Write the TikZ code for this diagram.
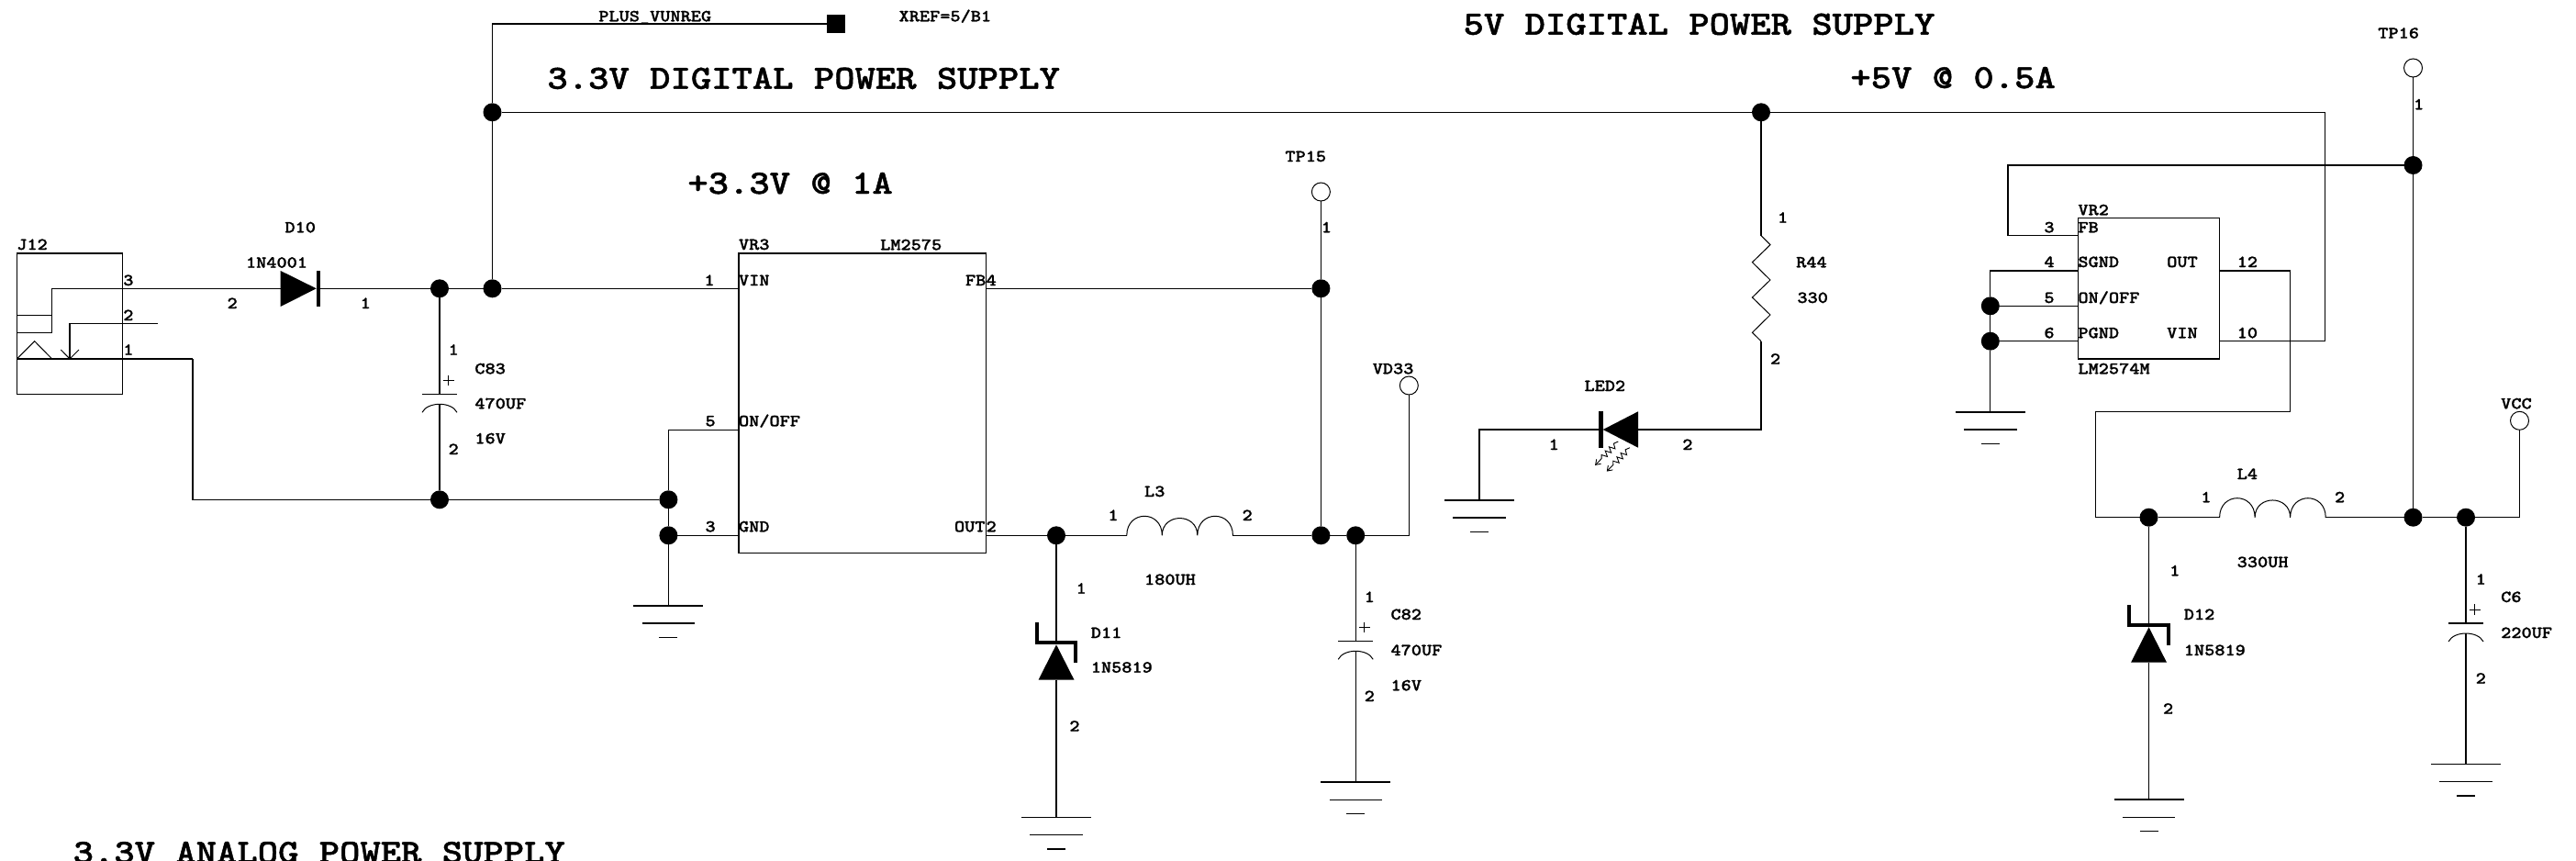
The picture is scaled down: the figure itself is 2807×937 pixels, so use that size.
\documentclass[tikz,border=0pt]{standalone}
\usepackage{fontspec}
\usetikzlibrary{arrows.meta}
\newfontfamily\schfont{Latin Modern Mono Light}[FakeStretch=1.15,BoldFeatures={FakeBold=1.2}]
\tikzset{
  x=1pt,y=-1pt,
  wire/.style={line width=1.15pt,black,line join=miter},
  thinw/.style={line width=1pt,black},
  lab/.style={anchor=base west,inner sep=0pt,outer sep=0pt,font=\schfont\bfseries\fontsize{18.5}{20}\selectfont},
  big/.style={anchor=base west,inner sep=0pt,outer sep=0pt,font=\schfont\bfseries\fontsize{37}{40}\selectfont},
  dot/.style={circle,fill=black,draw=none,minimum size=20pt,inner sep=0pt,outer sep=0pt},
  tpoint/.style={circle,fill=white,draw=black,line width=1pt,minimum size=20pt,inner sep=0pt,outer sep=0pt},
  ic/.style={rectangle,draw=black,line width=1.15pt,anchor=north west,inner sep=0pt,outer sep=0pt},
  sqport/.style={rectangle,fill=black,minimum size=20pt,inner sep=0pt,outer sep=0pt},
  gndsym/.pic={
    \draw[line width=1.6pt] (-38,0) -- (38,0);
    \draw[line width=1.6pt] (-28.7,19.3) -- (28.7,19.3);
    \draw[line width=1.3pt] (-10,34.6) -- (10,34.6);
  },
  coilsym/.pic={
    \draw[thinw] (0,0) .. controls (0,-28) and (38.5,-28) .. (38.5,0)
      .. controls (38.5,-25) and (77,-25) .. (77,0)
      .. controls (77,-28) and (115.6,-28) .. (115.6,0);
  },
  capsym/.pic={
    \draw[line width=1.3pt] (-19,0) -- (19,0);
    \draw[thinw] (-19,20) .. controls (-13,8) and (13,8) .. (19,20);
    \draw[line width=.9pt] (9.6,-20.6) -- (9.6,-9.4) (3.6,-15) -- (15.6,-15);
  },
  schottky/.pic={
    \fill (0,0) -- (-19.5,38.4) -- (19.5,38.4) -- cycle;
    \draw[line width=4pt,line cap=butt,line join=miter] (-21.5,-24) -- (-21.5,-2.3) -- (21,-2.3) -- (21,19.4);
  },
  ledray/.pic={
    \draw[line width=.9pt,-{Straight Barb[length=5pt,width=7pt]}] (0,0) -- (-4.9,2.2) -- (-3.4,7.9) -- (-9.9,5.8) -- (-7.6,12.2) -- (-14.1,10.1) -- (-11.8,16.5) -- (-18.3,14.5) -- (-18.2,18.7) -- (-25.2,25.9);
  },
}
\begin{document}
\begin{tikzpicture}
\clip (0,0) rectangle (2807,937);
\fill[white] (0,0) rectangle (2807,937);

% ---- coordinates -------------------------------------------------
\coordinate (topcorner) at (536.5,26);
\coordinate (jp3) at (56.7,314.3);
\coordinate (jp3b) at (56.7,362.3);
\coordinate (jp3c) at (18.3,362.3);
\coordinate (jr) at (18.3,343.3);
\coordinate (jr2) at (56.7,343.3);
\coordinate (jp2) at (171.7,352.7);
\coordinate (jp2b) at (76,352.7);
\coordinate (jp2c) at (76,391);
\coordinate (jp1) at (18.3,391);
\coordinate (jp1b) at (210,391);
\coordinate (jp1c) at (210,544.3);
\coordinate (jt1) at (37.7,371.7);
\coordinate (jt2) at (56.7,391);
\coordinate (ja1) at (66.3,381);
\coordinate (ja2) at (86,381);
\coordinate (d10a) at (305.7,314.3);
\coordinate (d10k) at (346.5,314.3);
\coordinate (c83p) at (479,429.3);
\coordinate (c83n) at (479,440.7);
\coordinate (vinp) at (805,314.3);
\coordinate (onp) at (805,468.3);
\coordinate (onb) at (728.4,468.3);
\coordinate (gndp) at (805,583.3);
\coordinate (gnd1) at (728.4,659.7);
\coordinate (fbp) at (1074.3,314.3);
\coordinate (outp) at (1074.3,583.3);
\coordinate (l3a) at (1227.8,583.3);
\coordinate (l3b) at (1343.4,583.3);
\coordinate (vdb) at (1535.3,583.3);
\coordinate (d11k) at (1151,702.3);
\coordinate (d11a) at (1151,740.7);
\coordinate (gnd2) at (1151,890.3);
\coordinate (c82p) at (1477.2,698.3);
\coordinate (c82n) at (1477.2,709.3);
\coordinate (gnd3) at (1477.2,852);
\coordinate (ledk) at (1746.7,468);
\coordinate (leda) at (1785,468);
\coordinate (ledl) at (1612,468);
\coordinate (ledr) at (1919,468);
\coordinate (gnd4) at (1612,544.7);
\coordinate (r1) at (1919,256.7);
\coordinate (r2) at (1919,371.7);
\coordinate (maine) at (2533.3,122.3);
\coordinate (mainf) at (2533.3,371.7);
\coordinate (vinq) at (2418.6,371.7);
\coordinate (fba) at (2188,180);
\coordinate (fbb) at (2188,256.7);
\coordinate (fbq) at (2264.4,256.7);
\coordinate (sgq) at (2264.4,295);
\coordinate (sga) at (2168.8,295);
\coordinate (onq) at (2264.4,333.3);
\coordinate (pgq) at (2264.4,371.7);
\coordinate (gnd5) at (2168.8,448.7);
\coordinate (ouq) at (2418.6,295);
\coordinate (oua) at (2495.7,295);
\coordinate (oub) at (2495.7,448.7);
\coordinate (ouc) at (2283.5,448.7);
\coordinate (oud) at (2283.5,563.7);
\coordinate (l4a) at (2418.6,563.7);
\coordinate (l4b) at (2534.2,563.7);
\coordinate (vcb) at (2745.5,563.7);
\coordinate (d12k) at (2341.5,683.3);
\coordinate (d12a) at (2341.5,721.7);
\coordinate (gnd6) at (2341.5,871);
\coordinate (c6p) at (2687,679);
\coordinate (c6n) at (2687,690);
\coordinate (gnd7) at (2687,832.3);

% ---- parts with nodes --------------------------------------------
\node[ic,minimum width=115pt,minimum height=153.3pt] (j12) at (18.3,276) {};
\node[ic,minimum width=269.3pt,minimum height=326.3pt] (vr3) at (805,276) {};
\node[ic,minimum width=154.2pt,minimum height=153.7pt] (vr2) at (2264.4,237.3) {};
\node[sqport] (xref) at (911,26) {};
\node[tpoint] (tp15) at (1439.4,209) {};
\node[tpoint] (vd33) at (1535.3,420) {};
\node[tpoint] (tp16) at (2629.5,74) {};
\node[tpoint] (vcc) at (2745.5,458.3) {};

\node[dot] (jA) at (536.5,122.3) {};
\node[dot] (jB) at (1919,122.3) {};
\node[dot] (jC) at (479,314.3) {};
\node[dot] (jD) at (536.5,314.3) {};
\node[dot] (jE) at (479,544.3) {};
\node[dot] (jF) at (728.4,544.3) {};
\node[dot] (jG) at (728.4,583.3) {};
\node[dot] (jH) at (1439.4,314.3) {};
\node[dot] (jI) at (1151,583.3) {};
\node[dot] (jK) at (1439.4,583.3) {};
\node[dot] (jL) at (1477.2,583.3) {};
\node[dot] (jM) at (2168.8,333.3) {};
\node[dot] (jN) at (2168.8,371.7) {};
\node[dot] (jO) at (2629.5,180) {};
\node[dot] (jP) at (2341.5,563.7) {};
\node[dot] (jQ) at (2629.5,563.7) {};
\node[dot] (jR) at (2687,563.7) {};

% ---- connectors --------------------------------------------------
\draw[wire] (xref) -- (topcorner) -- (jA);
\draw[wire] (jA) -- (jD);
\draw[wire] (jA) -- (jB);
\draw[wire] (jB) -- (maine) -- (mainf) -- (vinq);
\draw[wire] (jB) -- (r1);
\draw[wire] (jp3) -- (d10a);
\draw[wire] (d10k) -- (jC);
\draw[wire] (jC) -- (jD);
\draw[wire] (jD) -- (vinp);
\draw[wire] (jC) -- (c83p);
\draw[wire] (c83n) -- (jE);
\draw[wire] (jp1b) -- (jp1c) -- (jE);
\draw[wire] (jE) -- (jF);
\draw[wire] (onp) -- (onb) -- (jF);
\draw[wire] (jF) -- (jG);
\draw[wire] (jG) -- (gndp);
\draw[wire] (jG) -- (gnd1);
\draw[wire] (fbp) -- (jH);
\draw[wire] (tp15) -- (jH);
\draw[wire] (jH) -- (jK);
\draw[wire] (outp) -- (jI);
\draw[wire] (jI) -- (l3a);
\draw[wire] (l3b) -- (jK);
\draw[wire] (jK) -- (jL);
\draw[wire] (jL) -- (vdb) -- (vd33);
\draw[wire] (jI) -- (d11k);
\draw[wire] (d11a) -- (gnd2);
\draw[wire] (jL) -- (c82p);
\draw[wire] (c82n) -- (gnd3);
\draw[wire] (gnd4) -- (ledl) -- (ledk);
\draw[wire] (leda) -- (ledr) -- (r2);
\draw[wire] (jO) -- (fba) -- (fbb) -- (fbq);
\draw[wire] (tp16) -- (jO);
\draw[wire] (jO) -- (jQ);
\draw[wire] (sgq) -- (sga) -- (jM);
\draw[wire] (jM) -- (onq);
\draw[wire] (jM) -- (jN);
\draw[wire] (jN) -- (pgq);
\draw[wire] (jN) -- (gnd5);
\draw[wire] (ouq) -- (oua) -- (oub) -- (ouc) -- (oud) -- (jP);
\draw[wire] (jP) -- (l4a);
\draw[wire] (l4b) -- (jQ);
\draw[wire] (jQ) -- (jR);
\draw[wire] (jR) -- (vcb) -- (vcc);
\draw[wire] (jP) -- (d12k);
\draw[wire] (d12a) -- (gnd6);
\draw[wire] (jR) -- (c6p);
\draw[wire] (c6n) -- (gnd7);

% J12 inner drawing
\draw[wire] (jp3) -- (jp3b) -- (jp3c);
\draw[wire] (jr) -- (jr2);
\draw[wire] (jp2) -- (jp2b) -- (jp2c);
\draw[wire] (jp1) -- (jp1b);
\draw[thinw] (jp1) -- (jt1) -- (jt2);
\draw[thinw] (ja1) -- (jp2c) -- (ja2);

% symbols
\fill (305.7,295) -- (305.7,334) -- (344.7,314.3) -- cycle;
\draw[line width=4.3pt] (346.8,295) -- (346.8,334);
\fill (1785,448.3) -- (1785,487.7) -- (1746.7,468) -- cycle;
\draw[line width=4.7pt] (1744.3,448.3) -- (1744.3,487.7);
\pic at (1763.3,481) {ledray};
\pic at (1776,487.7) {ledray};
\pic at (c83p) {capsym};
\pic at (c82p) {capsym};
\pic at (c6p) {capsym};
\pic at (l3a) {coilsym};
\pic at (l4a) {coilsym};
\pic at (d11k) {schottky};
\pic at (d12k) {schottky};
\pic at (gnd1) {gndsym};
\pic at (gnd2) {gndsym};
\pic at (gnd3) {gndsym};
\pic at (gnd4) {gndsym};
\pic at (gnd5) {gndsym};
\pic at (gnd6) {gndsym};
\pic at (gnd7) {gndsym};
\draw[thinw] (r1) -- (1929,266.7) -- (1909.4,285.7) -- (1929,305) -- (1909.4,324) -- (1929,343) -- (1909.4,362.3) -- (r2);

% ---- titles ------------------------------------------------------
\node[big] (ttl33d) at (596.5,96.7) {3.3V DIGITAL POWER SUPPLY};
\node[big] (ttl33a) at (749.4,211) {+3.3V @ 1A};
\node[big] (ttl5d) at (1594.6,37.7) {5V DIGITAL POWER SUPPLY};
\node[big] (ttl5a) at (2016.4,96) {+5V @ 0.5A};
\node[big] (ttlan) at (79.7,940) {3.3V ANALOG POWER SUPPLY};

% ---- labels ------------------------------------------------------
\node[lab] (t01) at (652.3,23.3) {PLUS\_VUNREG};
\node[lab] (t02) at (979.6,23.3) {XREF=5/B1};
\node[lab] (t03) at (310.5,253.3) {D10};
\node[lab] (t04) at (268,291.7) {1N4001};
\node[lab] (t05) at (18.3,272) {J12};
\node[lab] (t06) at (134.3,311) {3};
\node[lab] (t07) at (134.3,349) {2};
\node[lab] (t08) at (134.3,386.7) {1};
\node[lab] (t09) at (247.6,336) {2};
\node[lab] (t10) at (392.7,336) {1};
\node[lab] (t11) at (805,272) {VR3};
\node[lab] (t12) at (959.2,272.3) {LM2575};
\node[lab] (t13) at (805,311) {VIN};
\node[lab] (t14) at (767.4,311) {1};
\node[lab] (t15) at (805,464.3) {ON/OFF};
\node[lab] (t16) at (768.5,464.3) {5};
\node[lab] (t17) at (805,579.3) {GND};
\node[lab] (t18) at (768.5,579.3) {3};
\node[lab] (t19) at (1052,311) {FB};
\node[lab] (t20) at (1074.6,311) {4};
\node[lab] (t21) at (1040,579.3) {OUT};
\node[lab] (t22) at (1074.6,579.3) {2};
\node[lab] (t23) at (488.6,386.7) {1};
\node[lab] (t24) at (517.4,407.3) {C83};
\node[lab] (t25) at (517.4,445.3) {470UF};
\node[lab] (t26) at (517.4,483.3) {16V};
\node[lab] (t27) at (488.6,495) {2};
\node[lab] (t28) at (1400.4,176) {TP15};
\node[lab] (t29) at (1439.8,253.3) {1};
\node[lab] (t30) at (1495.7,407.3) {VD33};
\node[lab] (t31) at (1726.5,426) {LED2};
\node[lab] (t32) at (1687.6,490) {1};
\node[lab] (t33) at (1833.3,490) {2};
\node[lab] (t34) at (1247,541) {L3};
\node[lab] (t35) at (1207.4,567) {1};
\node[lab] (t36) at (1353.6,567) {2};
\node[lab] (t37) at (1247,637) {180UH};
\node[lab] (t38) at (1172.6,646.7) {1};
\node[lab] (t39) at (1188.8,695) {D11};
\node[lab] (t40) at (1188.8,732.7) {1N5819};
\node[lab] (t41) at (1165.4,796.7) {2};
\node[lab] (t42) at (1486.7,656) {1};
\node[lab] (t43) at (1515.5,675) {C82};
\node[lab] (t44) at (1515.5,714) {470UF};
\node[lab] (t45) at (1515.5,752.3) {16V};
\node[lab] (t46) at (1486.7,764) {2};
\node[lab] (t47) at (2591.3,41.7) {TP16};
\node[lab] (t48) at (2630,119.3) {1};
\node[lab] (t49) at (1937,242.7) {1};
\node[lab] (t50) at (1957.2,291.3) {R44};
\node[lab] (t51) at (1958.4,330) {330};
\node[lab] (t52) at (1929,396.7) {2};
\node[lab] (t53) at (2264.4,234.3) {VR2};
\node[lab] (t54) at (2227.4,253.3) {3};
\node[lab] (t55) at (2264.4,253.3) {FB};
\node[lab] (t56) at (2227.4,291) {4};
\node[lab] (t57) at (2264.4,291) {SGND};
\node[lab] (t58) at (2361.2,291) {OUT};
\node[lab] (t59) at (2437.7,291) {12};
\node[lab] (t60) at (2227.4,330) {5};
\node[lab] (t61) at (2264.4,330) {ON/OFF};
\node[lab] (t62) at (2227.4,368.3) {6};
\node[lab] (t63) at (2264.4,368.3) {PGND};
\node[lab] (t64) at (2361.2,368.3) {VIN};
\node[lab] (t65) at (2437.7,368.3) {10};
\node[lab] (t66) at (2264.4,407.3) {LM2574M};
\node[lab] (t67) at (2725.2,445.3) {VCC};
\node[lab] (t68) at (2437.7,522) {L4};
\node[lab] (t69) at (2398.3,547.3) {1};
\node[lab] (t70) at (2544,547.3) {2};
\node[lab] (t71) at (2437.7,618) {330UH};
\node[lab] (t72) at (2364.2,627.3) {1};
\node[lab] (t73) at (2379.8,675) {D12};
\node[lab] (t74) at (2379.8,714) {1N5819};
\node[lab] (t75) at (2357,777.7) {2};
\node[lab] (t76) at (2697.7,636.7) {1};
\node[lab] (t77) at (2725.2,656) {C6};
\node[lab] (t78) at (2725.2,695) {220UF};
\node[lab] (t79) at (2697.7,744.7) {2};
\end{tikzpicture}
\end{document}
